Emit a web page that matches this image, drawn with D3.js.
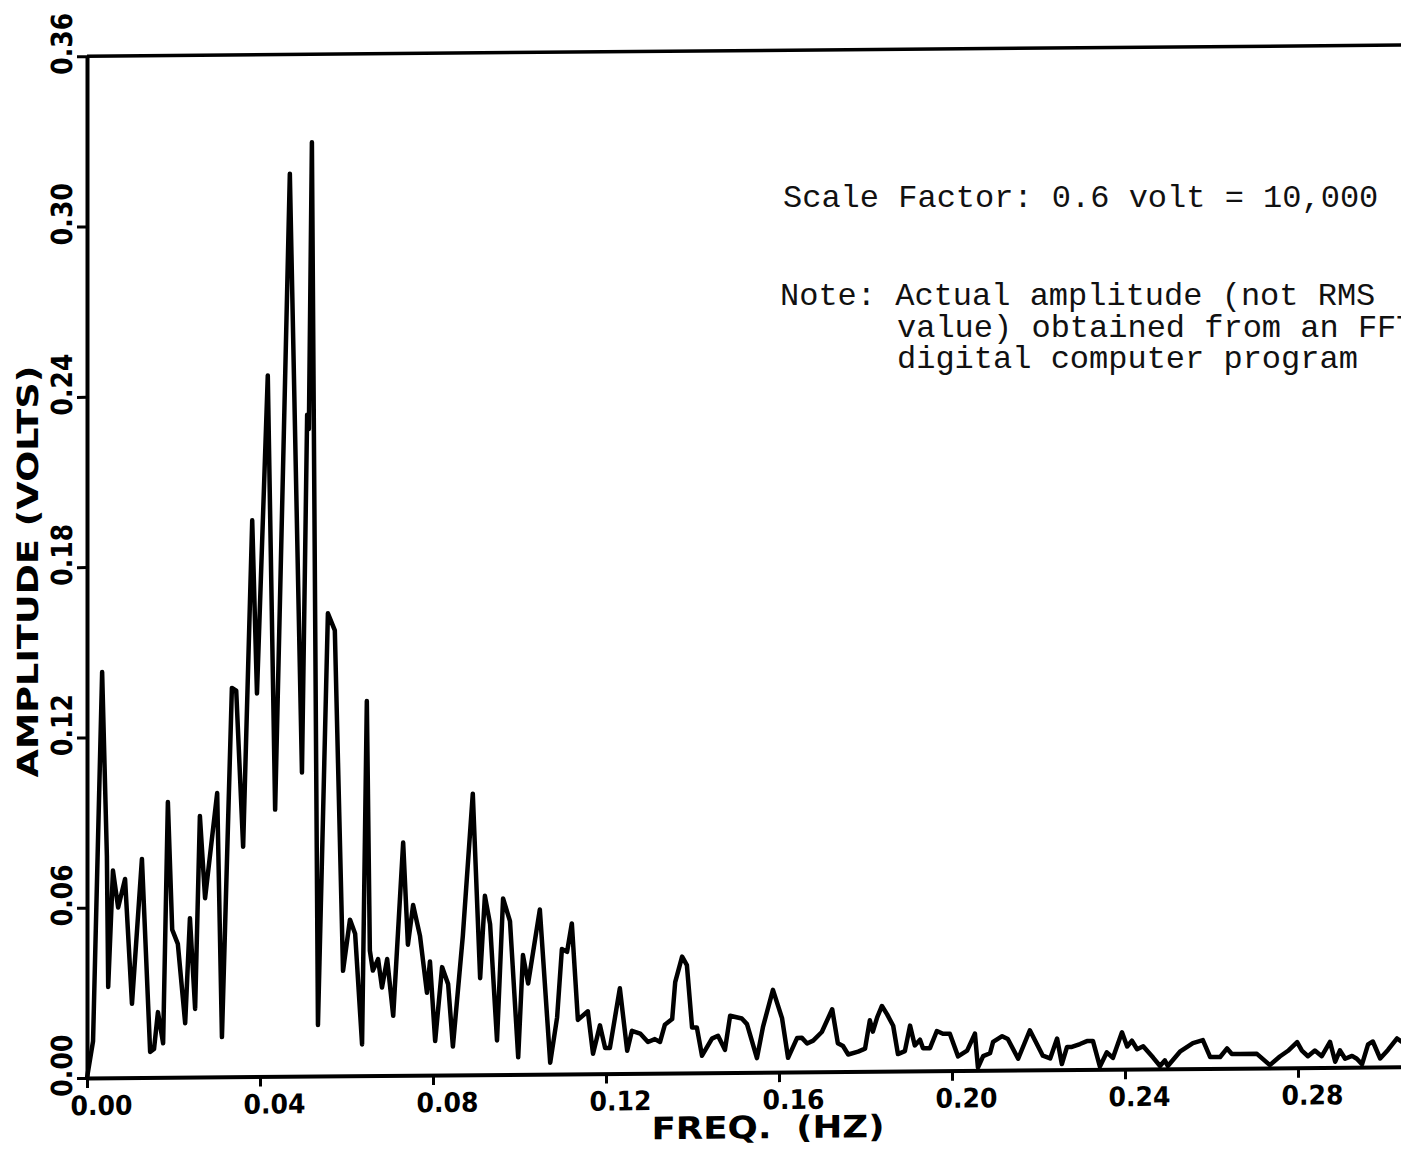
<!DOCTYPE html>
<html>
<head>
<meta charset="utf-8">
<script src="https://cdn.jsdelivr.net/npm/d3@7"></script>
<style>
  html, body { margin: 0; padding: 0; background: #fff; overflow: hidden; }
  svg { display: block; }
</style>
</head>
<body>
<svg id="chart" width="1401" height="1153"></svg>
<script>
// Frequency (Hz) of each vertex of the amplitude spectrum trace
const freq = [
  0.0000, 0.0014, 0.0035, 0.0046, 0.0049, 0.0060, 0.0072, 0.0088, 0.0104, 0.0127,
  0.0146, 0.0155, 0.0164, 0.0176, 0.0187, 0.0197, 0.0210, 0.0227, 0.0238, 0.0250,
  0.0261, 0.0273, 0.0301, 0.0312, 0.0335, 0.0345, 0.0361, 0.0382, 0.0393, 0.0418,
  0.0435, 0.0469, 0.0497, 0.0509, 0.0513, 0.0520, 0.0534, 0.0557, 0.0573, 0.0592,
  0.0608, 0.0620, 0.0636, 0.0647, 0.0654, 0.0661, 0.0673, 0.0682, 0.0694, 0.0708,
  0.0731, 0.0742, 0.0754, 0.0770, 0.0786, 0.0793, 0.0805, 0.0821, 0.0835, 0.0846,
  0.0869, 0.0892, 0.0909, 0.0920, 0.0932, 0.0948, 0.0962, 0.0978, 0.0997, 0.1008,
  0.1020, 0.1047, 0.1071, 0.1087, 0.1098, 0.1110, 0.1121, 0.1135, 0.1158, 0.1170,
  0.1186, 0.1198, 0.1209, 0.1232, 0.1249, 0.1260, 0.1279, 0.1297, 0.1313, 0.1325,
  0.1336, 0.1353, 0.1360, 0.1376, 0.1387, 0.1399, 0.1410, 0.1422, 0.1445, 0.1459,
  0.1475, 0.1487, 0.1514, 0.1526, 0.1549, 0.1563, 0.1586, 0.1607, 0.1621, 0.1642,
  0.1653, 0.1665, 0.1679, 0.1699, 0.1723, 0.1736, 0.1748, 0.1760, 0.1783, 0.1799,
  0.1810, 0.1817, 0.1827, 0.1838, 0.1850, 0.1864, 0.1875, 0.1891, 0.1903, 0.1914,
  0.1926, 0.1933, 0.1949, 0.1965, 0.1979, 0.1995, 0.2014, 0.2035, 0.2053, 0.2060,
  0.2072, 0.2088, 0.2095, 0.2116, 0.2129, 0.2153, 0.2180, 0.2210, 0.2227, 0.2243,
  0.2254, 0.2266, 0.2277, 0.2296, 0.2312, 0.2326, 0.2342, 0.2358, 0.2372, 0.2393,
  0.2405, 0.2416, 0.2428, 0.2442, 0.2465, 0.2481, 0.2492, 0.2499, 0.2527, 0.2557,
  0.2580, 0.2597, 0.2620, 0.2636, 0.2647, 0.2666, 0.2705, 0.2735, 0.2758, 0.2777,
  0.2798, 0.2809, 0.2823, 0.2839, 0.2855, 0.2874, 0.2886, 0.2897, 0.2909, 0.2925,
  0.2936, 0.2948, 0.2962, 0.2973, 0.2990, 0.3008, 0.3029, 0.3047
];

// Amplitude (volts) at each vertex
const amp = [
  0.000, 0.013, 0.143, 0.078, 0.032, 0.073, 0.060, 0.070, 0.026, 0.077,
  0.009, 0.010, 0.023, 0.012, 0.097, 0.052, 0.047, 0.019, 0.056, 0.024,
  0.092, 0.063, 0.100, 0.014, 0.137, 0.136, 0.081, 0.196, 0.135, 0.247,
  0.094, 0.318, 0.107, 0.233, 0.228, 0.329, 0.018, 0.163, 0.157, 0.037,
  0.055, 0.050, 0.011, 0.132, 0.044, 0.037, 0.041, 0.031, 0.041, 0.021,
  0.082, 0.046, 0.060, 0.049, 0.029, 0.040, 0.012, 0.038, 0.032, 0.010,
  0.049, 0.099, 0.034, 0.063, 0.053, 0.012, 0.062, 0.054, 0.006, 0.042,
  0.032, 0.058, 0.004, 0.020, 0.044, 0.043, 0.053, 0.019, 0.022, 0.007,
  0.017, 0.009, 0.009, 0.030, 0.008, 0.015, 0.014, 0.011, 0.012, 0.011,
  0.017, 0.019, 0.032, 0.041, 0.038, 0.016, 0.016, 0.006, 0.012, 0.013,
  0.008, 0.020, 0.019, 0.017, 0.005, 0.016, 0.029, 0.019, 0.005, 0.012,
  0.012, 0.010, 0.011, 0.014, 0.022, 0.010, 0.009, 0.006, 0.007, 0.008,
  0.018, 0.014, 0.019, 0.023, 0.020, 0.016, 0.006, 0.007, 0.016, 0.009,
  0.011, 0.008, 0.008, 0.014, 0.013, 0.013, 0.005, 0.007, 0.013, 0.001,
  0.005, 0.006, 0.010, 0.012, 0.011, 0.004, 0.014, 0.005, 0.004, 0.011,
  0.002, 0.008, 0.008, 0.009, 0.010, 0.010, 0.001, 0.006, 0.004, 0.013,
  0.008, 0.010, 0.007, 0.008, 0.004, 0.001, 0.003, 0.001, 0.006, 0.009,
  0.010, 0.004, 0.004, 0.007, 0.005, 0.005, 0.005, 0.001, 0.004, 0.006,
  0.009, 0.006, 0.004, 0.006, 0.004, 0.009, 0.002, 0.006, 0.003, 0.004,
  0.003, 0.001, 0.008, 0.009, 0.003, 0.006, 0.010, 0.008
];

// Axis ticks and their printed labels
const xTicks = [0.00, 0.04, 0.08, 0.12, 0.16, 0.20, 0.24, 0.28];
const xTickLabels = ["0.00", "0.04", "0.08", "0.12", "0.16", "0.20", "0.24", "0.28"];
const yTicks = [0.00, 0.06, 0.12, 0.18, 0.24, 0.30, 0.36];
const yTickLabels = ["0.00", "0.06", "0.12", "0.18", "0.24", "0.30", "0.36"];

const xTitle = "FREQ.  (HZ)";
const yTitle = "AMPLITUDE (VOLTS)";
const noteLines = [
  "Scale Factor: 0.6 volt = 10,000",
  "Note: Actual amplitude (not RMS",
  "value) obtained from an FFT",
  "digital computer program"
];

const svg = d3.select("#chart");

const left = 87, bottom = 1078;
const x = d3.scaleLinear().domain([0, 0.32]).range([left, left + 0.32 * 4325]);
const y = d3.scaleLinear().domain([0, 0.36]).range([bottom, bottom - 6 * 170.3]);

// The plotter sheet sits slightly skewed: horizontal lines climb to the right.
const k = -0.0085;
const plot = svg.append("g")
  .attr("transform", `translate(0,${-k * left}) skewY(${Math.atan(k) * 180 / Math.PI})`);

const tickFont = "'DejaVu Sans', sans-serif";

// Bottom axis
const xAxis = d3.axisBottom(x)
  .tickValues(xTicks)
  .tickFormat((d, i) => xTickLabels[i])
  .tickSize(10)
  .tickSizeOuter(0);

const gx = plot.append("g").attr("transform", `translate(0,${bottom})`).call(xAxis);
gx.select(".domain").attr("stroke", "#000").attr("stroke-width", 4);
gx.selectAll(".tick line").attr("stroke", "#000").attr("stroke-width", 3);
gx.selectAll(".tick text")
  .attr("y", 37).attr("dy", null).attr("x", 14)
  .attr("fill", "#000")
  .attr("font-family", tickFont)
  .attr("font-weight", "bold")
  .attr("font-size", 27)
  .attr("textLength", 62)
  .attr("lengthAdjust", "spacingAndGlyphs")
  .attr("text-anchor", "middle");

// Left axis
const yAxis = d3.axisLeft(y)
  .tickValues(yTicks)
  .tickFormat((d, i) => yTickLabels[i])
  .tickSize(10)
  .tickSizeOuter(0);

const gy = plot.append("g").attr("transform", `translate(${left},0)`).call(yAxis);
gy.select(".domain").attr("stroke", "#000").attr("stroke-width", 4);
gy.selectAll(".tick line").attr("stroke", "#000").attr("stroke-width", 3);
gy.selectAll(".tick text")
  .attr("x", null).attr("dy", null)
  .attr("transform", "translate(-15,-13) rotate(-90)")
  .attr("fill", "#000")
  .attr("font-family", tickFont)
  .attr("font-weight", "bold")
  .attr("font-size", 29)
  .attr("textLength", 62)
  .attr("lengthAdjust", "spacingAndGlyphs")
  .attr("text-anchor", "middle");

// Upper frame line
plot.append("line")
  .attr("x1", x(0)).attr("x2", x(0.32))
  .attr("y1", y(0.36)).attr("y2", y(0.36))
  .attr("stroke", "#000").attr("stroke-width", 3.5);

// Amplitude spectrum trace
const pts = freq.map((f, i) => [f, amp[i]]);
plot.append("path")
  .datum(pts)
  .attr("fill", "none")
  .attr("stroke", "#000")
  .attr("stroke-width", 4.5)
  .attr("stroke-linejoin", "round")
  .attr("stroke-linecap", "round")
  .attr("d", d3.line().x(d => x(d[0])).y(d => y(d[1])));

// Axis titles
plot.append("text")
  .attr("x", 768).attr("y", 1144)
  .attr("text-anchor", "middle")
  .attr("font-family", tickFont)
  .attr("font-weight", "bold")
  .attr("font-size", 31)
  .attr("textLength", 233)
  .attr("lengthAdjust", "spacingAndGlyphs")
  .style("white-space", "pre")
  .text(xTitle);

plot.append("text")
  .attr("transform", "translate(38,571) rotate(-90)")
  .attr("text-anchor", "middle")
  .attr("font-family", tickFont)
  .attr("font-weight", "bold")
  .attr("font-size", 29)
  .attr("textLength", 412)
  .attr("lengthAdjust", "spacingAndGlyphs")
  .text(yTitle);

// Typed annotation block
const note = svg.append("g")
  .attr("font-family", "'Liberation Mono', 'Courier New', monospace")
  .attr("font-size", 32)
  .attr("fill", "#111");
note.append("text").attr("x", 783).attr("y", 207).text(noteLines[0]);
note.append("text").attr("x", 780).attr("y", 305).text(noteLines[1]);
note.append("text").attr("x", 897).attr("y", 337).text(noteLines[2]);
note.append("text").attr("x", 897).attr("y", 368).text(noteLines[3]);
</script>
</body>
</html>
